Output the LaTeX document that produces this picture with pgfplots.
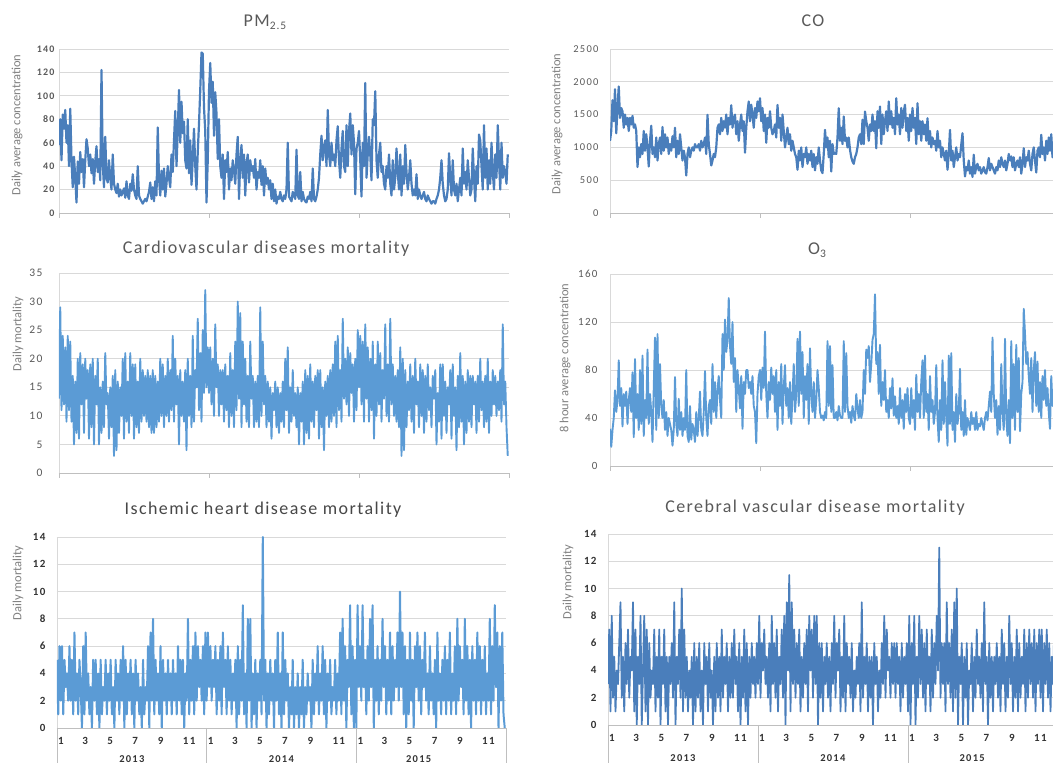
\documentclass[border=0pt]{standalone}
\usepackage{pgfplots}
\pgfplotsset{compat=1.18}
\usepackage{pgfplotstable}
\usepackage{fontspec}
\setmainfont{Carlito}
\newfontfamily\titlefont[LetterSpace=8]{Carlito}
\newfontfamily\tickfont[LetterSpace=12]{Carlito}
\definecolor{dblue}{HTML}{4A7EBB}
\definecolor{lblue}{HTML}{5B9BD5}
\definecolor{gridc}{HTML}{D9D9D9}
\definecolor{axc}{HTML}{BFBFBF}
\definecolor{txt}{HTML}{595959}
\definecolor{lab}{HTML}{7F7F7F}

\pgfplotstableread[row sep=\\]{
y\\
58\\80\\45\\84\\72\\88\\60\\75\\40\\89\\
45\\22\\48\\30\\9\\44\\25\\52\\35\\46\\
22\\45\\63\\55\\40\\50\\34\\46\\25\\44\\
57\\35\\46\\28\\122\\42\\22\\65\\30\\26\\
45\\30\\20\\50\\25\\20\\17\\25\\14\\20\\
15\\18\\21\\13\\27\\15\\12\\25\\19\\33\\
20\\15\\12\\40\\15\\12\\10\\8\\10\\12\\
10\\14\\18\\26\\12\\22\\10\\27\\15\\73\\
30\\15\\36\\20\\38\\14\\25\\40\\30\\22\\
50\\35\\62\\87\\40\\70\\105\\60\\95\\68\\
78\\45\\38\\80\\34\\62\\24\\46\\72\\40\\
20\\52\\76\\105\\137\\136\\90\\70\\9\\45\\
104\\128\\94\\112\\66\\103\\85\\46\\80\\40\\
30\\50\\12\\45\\35\\52\\20\\38\\28\\45\\
36\\25\\50\\65\\12\\45\\58\\30\\50\\15\\
42\\50\\26\\45\\36\\40\\30\\46\\20\\35\\
30\\45\\24\\40\\15\\38\\25\\30\\20\\28\\
12\\25\\10\\20\\8\\14\\12\\18\\12\\10\\
15\\12\\20\\60\\14\\12\\10\\18\\15\\12\\
54\\15\\12\\35\\10\\18\\12\\10\\9\\14\\
12\\18\\10\\38\\12\\10\\14\\20\\30\\50\\
66\\45\\56\\62\\40\\88\\50\\40\\60\\45\\
50\\40\\62\\74\\45\\30\\55\\70\\40\\35\\
75\\40\\70\\85\\50\\75\\60\\16\\55\\60\\
70\\45\\14\\60\\40\\111\\30\\50\\65\\50\\
28\\80\\75\\104\\45\\30\\50\\60\\35\\40\\
25\\20\\40\\30\\50\\25\\15\\45\\20\\30\\
55\\35\\20\\50\\15\\40\\25\\58\\35\\20\\
30\\45\\25\\15\\20\\15\\33\\12\\20\\15\\
12\\15\\18\\12\\10\\15\\12\\10\\8\\10\\
10\\8\\12\\15\\20\\30\\45\\25\\15\\10\\
12\\20\\51\\30\\15\\45\\20\\15\\25\\10\\
20\\30\\15\\55\\25\\35\\20\\45\\30\\15\\
20\\55\\30\\10\\40\\25\\67\\62\\40\\20\\
75\\30\\55\\20\\45\\25\\60\\35\\20\\50\\
30\\75\\45\\20\\60\\30\\40\\35\\25\\50\\
}\pmtab

\pgfplotstableread[row sep=\\]{
y\\
1100\\1250\\1720\\1400\\1886\\1217\\1600\\1927\\1450\\1600\\
1550\\1300\\1500\\1350\\1450\\1250\\1450\\1350\\1480\\1300\\
1350\\1250\\700\\1000\\850\\1050\\900\\1250\\950\\1200\\
1000\\710\\1100\\1330\\900\\1000\\850\\1150\\800\\1050\\
1150\\900\\1310\\950\\1200\\1000\\1150\\900\\1050\\950\\
1170\\1000\\1300\\850\\1100\\900\\1200\\1000\\800\\950\\
850\\573\\900\\1000\\850\\950\\1000\\950\\1050\\1000\\
1000\\1050\\950\\1100\\1000\\1050\\1150\\900\\1496\\1050\\
900\\725\\800\\900\\850\\1000\\1300\\1350\\1200\\1450\\
1250\\1400\\1300\\1500\\1200\\1450\\1350\\1643\\1300\\1450\\
1500\\1200\\1400\\1100\\1350\\1500\\1250\\1400\\920\\1300\\
1550\\1700\\1400\\1650\\1500\\1300\\1600\\1450\\1700\\1550\\
1750\\1400\\1600\\1250\\1500\\1070\\1450\\1300\\1550\\1300\\
1200\\1250\\1350\\1150\\1648\\1300\\1450\\1100\\1500\\1250\\
1000\\1150\\1300\\1050\\1200\\950\\1100\\1000\\900\\850\\
660\\950\\800\\1000\\700\\900\\850\\1000\\750\\900\\
800\\950\\700\\900\\650\\850\\750\\1000\\800\\650\\
608\\900\\1267\\1000\\1150\\850\\1100\\634\\1050\\900\\
913\\900\\1150\\1597\\1100\\1300\\1050\\1470\\1100\\1150\\
1000\\1150\\963\\850\\786\\750\\850\\900\\1000\\1150\\
1200\\1050\\1420\\1050\\1546\\1400\\1300\\1100\\1350\\1250\\
1500\\1250\\1400\\988\\1550\\1300\\1622\\1050\\1500\\1200\\
1400\\1550\\1250\\1700\\1350\\1550\\1300\\1450\\1200\\1750\\
1350\\1500\\1200\\1600\\1300\\1550\\1650\\1250\\1450\\1100\\
1500\\1250\\1600\\1300\\1450\\1050\\1673\\1200\\1400\\1100\\
1400\\1200\\1350\\1100\\1445\\1050\\1250\\1000\\1150\\1050\\
1100\\950\\1250\\1000\\1100\\850\\1000\\900\\800\\950\\
659\\900\\1267\\800\\950\\700\\850\\1000\\800\\900\\
850\\1040\\1217\\800\\558\\700\\650\\800\\600\\700\\
550\\887\\600\\700\\750\\650\\700\\600\\650\\700\\
620\\600\\700\\837\\650\\750\\700\\650\\600\\700\\
650\\800\\700\\850\\750\\700\\800\\650\\750\\900\\
800\\862\\700\\850\\650\\750\\800\\700\\850\\600\\
750\\988\\700\\850\\800\\950\\750\\650\\900\\1000\\
800\\618\\950\\1000\\850\\1191\\900\\1000\\800\\1100\\
900\\1150\\950\\1200\\850\\1000\\900\\950\\800\\1000\\
}\cotab

\pgfplotstableread[row sep=\\]{
y\\
13\\29\\11\\24\\12\\22\\9\\24\\11\\23\\
9\\17\\5\\16\\7\\20\\6\\21\\12\\19\\
7\\20\\13\\18\\6\\19\\8\\20\\5\\17\\
12\\20\\5\\15\\7\\16\\8\\21\\12\\14\\
6\\15\\8\\17\\3\\18\\4\\16\\7\\15\\
10\\20\\6\\21\\9\\16\\7\\21\\10\\19\\
6\\19\\8\\16\\7\\20\\9\\18\\10\\17\\
9\\18\\8\\17\\7\\18\\7\\17\\8\\16\\
9\\20\\10\\19\\8\\17\\10\\20\\9\\18\\
11\\24\\9\\20\\12\\17\\5\\18\\10\\16\\
9\\18\\4\\20\\10\\17\\8\\24\\9\\18\\
15\\27\\11\\21\\9\\25\\14\\32\\15\\22\\
14\\22\\12\\20\\10\\26\\15\\19\\10\\18\\
12\\18\\9\\19\\11\\17\\8\\21\\10\\18\\
8\\23\\11\\30\\13\\28\\8\\23\\12\\20\\
9\\17\\8\\23\\13\\17\\8\\16\\9\\17\\
8\\29\\10\\23\\12\\17\\8\\16\\9\\15\\
6\\14\\11\\16\\8\\15\\7\\14\\9\\16\\
8\\20\\11\\22\\7\\15\\9\\18\\10\\14\\
8\\15\\5\\14\\9\\16\\5\\18\\7\\17\\
6\\19\\9\\16\\8\\17\\11\\18\\6\\18\\
8\\15\\4\\16\\10\\17\\8\\18\\9\\19\\
10\\23\\8\\24\\11\\18\\9\\27\\13\\20\\
12\\22\\10\\21\\14\\19\\9\\20\\11\\25\\
15\\24\\12\\23\\9\\26\\13\\22\\9\\20\\
11\\23\\6\\19\\10\\23\\12\\21\\9\\18\\
13\\26\\10\\19\\9\\27\\12\\19\\10\\17\\
9\\18\\8\\22\\3\\20\\4\\18\\8\\16\\
11\\19\\9\\17\\7\\20\\12\\16\\8\\19\\
10\\18\\7\\17\\9\\19\\11\\15\\8\\17\\
13\\18\\5\\14\\9\\19\\6\\19\\10\\16\\
7\\15\\12\\18\\6\\19\\10\\15\\4\\17\\
8\\21\\9\\17\\5\\16\\7\\18\\9\\17\\
8\\17\\12\\16\\7\\17\\9\\20\\11\\16\\
8\\17\\9\\20\\7\\16\\10\\18\\12\\17\\
10\\16\\11\\18\\9\\26\\12\\16\\8\\3\\
}\cvtab

\pgfplotstableread[row sep=\\]{
y\\
31\\16\\30\\40\\63\\45\\55\\88\\50\\65\\
33\\60\\50\\62\\35\\55\\65\\45\\78\\24\\
89\\40\\60\\30\\80\\35\\92\\25\\55\\40\\
97\\35\\60\\45\\20\\65\\107\\30\\110\\40\\
85\\50\\40\\55\\30\\45\\25\\40\\35\\30\\
17\\30\\74\\35\\25\\56\\30\\45\\25\\40\\
30\\80\\25\\20\\50\\22\\35\\30\\20\\45\\
25\\40\\62\\30\\25\\45\\79\\40\\25\\50\\
55\\35\\85\\45\\70\\40\\63\\75\\55\\40\\
110\\80\\122\\95\\105\\140\\100\\85\\120\\70\\
90\\45\\80\\65\\48\\75\\31\\70\\60\\80\\
80\\65\\70\\60\\75\\50\\45\\19\\60\\75\\
80\\55\\82\\65\\112\\60\\40\\70\\55\\82\\
60\\75\\45\\80\\30\\70\\50\\85\\35\\65\\
84\\50\\65\\40\\70\\35\\58\\85\\45\\60\\
106\\50\\112\\60\\95\\40\\75\\55\\85\\35\\
98\\60\\45\\70\\40\\55\\80\\65\\45\\40\\
42\\38\\45\\40\\104\\50\\100\\45\\84\\40\\
40\\45\\38\\50\\42\\40\\40\\104\\45\\94\\
50\\40\\45\\36\\50\\42\\38\\60\\48\\40\\
55\\40\\45\\80\\60\\97\\90\\100\\70\\85\\
105\\110\\143\\85\\95\\60\\101\\50\\70\\55\\
80\\45\\55\\40\\65\\48\\73\\42\\58\\40\\
50\\35\\65\\40\\55\\31\\60\\45\\65\\40\\
35\\65\\40\\55\\30\\76\\45\\60\\40\\70\\
88\\40\\92\\45\\60\\30\\75\\45\\55\\35\\
45\\84\\40\\20\\55\\30\\88\\35\\70\\40\\
17\\92\\35\\94\\30\\45\\20\\60\\35\\45\\
81\\30\\45\\25\\55\\26\\40\\35\\30\\45\\
35\\40\\30\\45\\30\\35\\33\\40\\35\\30\\
40\\45\\38\\50\\62\\45\\107\\60\\40\\55\\
26\\50\\30\\85\\45\\30\\106\\40\\25\\55\\
19\\104\\40\\85\\30\\101\\45\\90\\29\\60\\
70\\131\\110\\85\\95\\75\\60\\90\\45\\80\\
95\\50\\87\\45\\70\\40\\75\\55\\80\\50\\
65\\45\\31\\75\\50\\60\\40\\70\\55\\30\\
}\otab

\pgfplotstableread[row sep=\\]{
y\\
5\\1\\6\\2\\6\\1\\5\\3\\4\\2\\
6\\2\\5\\1\\7\\2\\4\\1\\5\\3\\
0\\6\\1\\7\\2\\4\\1\\3\\0\\5\\
2\\5\\1\\4\\0\\5\\1\\3\\2\\5\\
1\\4\\2\\5\\1\\3\\0\\5\\2\\4\\
1\\5\\2\\6\\0\\5\\1\\4\\2\\5\\
1\\4\\0\\5\\2\\4\\1\\3\\0\\5\\
1\\3\\2\\6\\0\\7\\2\\8\\1\\5\\
2\\4\\1\\6\\0\\5\\2\\4\\1\\5\\
2\\4\\1\\5\\2\\4\\1\\6\\2\\5\\
1\\5\\0\\4\\2\\8\\1\\5\\2\\6\\
1\\7\\2\\6\\3\\5\\2\\6\\1\\7\\
2\\7\\3\\6\\2\\5\\3\\6\\1\\5\\
2\\6\\1\\7\\3\\5\\1\\6\\2\\5\\
1\\4\\2\\5\\0\\6\\1\\5\\2\\9\\
1\\4\\0\\8\\2\\8\\0\\4\\1\\5\\
0\\4\\2\\5\\1\\14\\2\\5\\0\\4\\
1\\5\\2\\4\\0\\5\\2\\7\\1\\4\\
0\\7\\1\\5\\2\\4\\0\\3\\1\\5\\
0\\3\\1\\4\\0\\3\\1\\5\\0\\3\\
1\\4\\2\\3\\0\\5\\1\\4\\2\\6\\
1\\4\\2\\6\\1\\5\\0\\4\\2\\5\\
1\\3\\2\\5\\1\\4\\2\\7\\1\\8\\
2\\6\\0\\5\\3\\9\\1\\6\\0\\5\\
0\\9\\3\\6\\2\\9\\3\\5\\1\\6\\
2\\8\\3\\9\\0\\5\\2\\6\\1\\5\\
2\\8\\3\\6\\1\\5\\2\\7\\1\\6\\
2\\5\\3\\7\\2\\10\\3\\7\\1\\6\\
0\\5\\1\\7\\2\\5\\0\\6\\3\\7\\
2\\6\\1\\5\\3\\7\\2\\4\\1\\6\\
2\\4\\1\\5\\0\\7\\2\\4\\1\\5\\
2\\6\\1\\5\\2\\7\\1\\4\\2\\6\\
1\\8\\2\\6\\3\\5\\1\\8\\2\\6\\
1\\5\\0\\6\\2\\5\\1\\7\\2\\6\\
1\\5\\2\\6\\1\\4\\2\\8\\1\\6\\
2\\9\\3\\7\\0\\6\\2\\7\\1\\0\\
}\ihtab

\pgfplotstableread[row sep=\\]{
y\\
3\\7\\1\\8\\2\\5\\1\\4\\3\\6\\
9\\2\\5\\1\\6\\3\\7\\2\\5\\4\\
9\\1\\7\\0\\5\\3\\8\\0\\4\\8\\
1\\7\\0\\6\\2\\4\\3\\7\\1\\5\\
2\\7\\0\\5\\3\\7\\1\\5\\0\\5\\
3\\6\\2\\9\\0\\5\\3\\7\\2\\10\\
1\\7\\2\\5\\1\\4\\2\\5\\0\\6\\
1\\5\\2\\6\\1\\4\\0\\6\\3\\5\\
1\\6\\2\\4\\0\\5\\1\\6\\2\\5\\
1\\7\\2\\5\\3\\6\\1\\5\\2\\6\\
2\\7\\3\\5\\1\\6\\0\\5\\2\\7\\
1\\6\\0\\5\\2\\6\\3\\5\\2\\6\\
3\\8\\2\\6\\4\\7\\3\\5\\2\\6\\
1\\8\\3\\6\\2\\7\\1\\5\\3\\7\\
2\\8\\0\\9\\4\\11\\1\\9\\3\\7\\
2\\6\\3\\7\\1\\5\\2\\6\\3\\7\\
1\\8\\4\\7\\2\\8\\3\\8\\0\\6\\
2\\6\\1\\5\\3\\6\\2\\5\\1\\6\\
3\\8\\2\\6\\4\\7\\1\\5\\2\\8\\
1\\6\\3\\5\\2\\6\\1\\4\\2\\5\\
3\\6\\1\\9\\2\\5\\3\\6\\1\\5\\
2\\5\\0\\6\\3\\5\\1\\4\\2\\6\\
3\\8\\2\\7\\4\\5\\2\\6\\3\\6\\
2\\6\\3\\5\\1\\6\\2\\5\\3\\6\\
1\\8\\0\\6\\3\\8\\0\\5\\2\\8\\
3\\7\\2\\6\\1\\7\\3\\5\\1\\7\\
2\\6\\3\\8\\4\\13\\2\\6\\3\\6\\
1\\9\\3\\6\\2\\7\\1\\9\\2\\10\\
0\\5\\3\\6\\0\\5\\2\\6\\0\\4\\
3\\6\\1\\5\\2\\7\\3\\5\\2\\6\\
1\\9\\3\\5\\0\\6\\2\\5\\1\\5\\
3\\6\\2\\5\\1\\7\\3\\6\\1\\5\\
2\\8\\3\\6\\1\\5\\2\\7\\1\\6\\
2\\5\\3\\7\\1\\6\\2\\7\\3\\6\\
2\\7\\1\\6\\3\\7\\2\\7\\1\\6\\
3\\7\\2\\6\\1\\5\\3\\7\\1\\6\\
}\cbtab

\pgfplotsset{
  panel/.style={
    scale only axis, xmin=0, xmax=1095, clip mode=individual,
    axis x line*=bottom, axis y line*=left,
    ymajorgrids, grid style={draw=gridc, line width=0.8pt},
    x axis line style={draw=axc, line width=0.8pt, -},
    y axis line style={draw=gridc, line width=0.8pt, -},
    ytick style={draw=none},
    xtick style={draw=axc, line width=0.8pt},
    tick align=outside, major tick length=5pt,
    /pgf/number format/assume math mode=true,
    /pgf/number format/1000 sep={},
    yticklabel style={text=txt},
  },
  toppanel/.style={panel, xtick={0,365,730,1095}, xticklabels={}},
  botpanel/.style={panel,
    xtick={0,59,120,181,243,304,365,424,485,546,608,669,730,789,850,911,973,1034},
    xticklabels={1,3,5,7,9,11,1,3,5,7,9,11,1,3,5,7,9,11},
    xtick style={draw=none}, major tick length=0pt,
    xticklabel style={anchor=north west, inner sep=0pt, xshift=1pt,
      font=\tickfont\fontsize{11}{11}\selectfont\bfseries, text=black!80},
    yticklabel style={font=\tickfont\fontsize{11}{11}\selectfont\bfseries, text=black!80, xshift=-8pt},
    ymin=0, ymax=14, ytick={0,2,...,14},
  },
}

\begin{document}
\begin{tikzpicture}[x=1pt,y=1pt]
\useasboundingbox (0,0) rectangle (1053,763);
\clip (0,0) rectangle (1053,763);

% ---------- PM2.5 ----------
\begin{axis}[toppanel, at={(59pt,550pt)}, anchor=south west, width=450pt, height=164pt,
  ymin=0, ymax=140, ytick={0,20,...,140},
  yticklabel style={font=\tickfont\fontsize{10}{10}\selectfont\bfseries, xshift=4pt}]
\addplot[dblue, line width=2.2pt, line join=round] table[x expr=\coordindex*3.0417, y index=0] {\pmtab};
\end{axis}
\node[anchor=base, font=\titlefont\fontsize{18}{18}\selectfont, text=txt] at (265,736) {PM{\fontsize{11.5}{11}\selectfont\raisebox{-3pt}{2.5}}};
\node[rotate=90, font=\fontsize{12.5}{13}\selectfont, text=lab] at (17,638) {Daily average concentration};

% ---------- CO ----------
\begin{axis}[toppanel, at={(610pt,550pt)}, anchor=south west, width=450pt, height=164pt,
  ymin=0, ymax=2500, ytick={0,500,...,2500},
  yticklabel style={font=\tickfont\fontsize{10.5}{10}\selectfont, xshift=-3pt}]
\addplot[dblue, line width=2.2pt, line join=round] table[x expr=\coordindex*3.0417, y index=0] {\cotab};
\end{axis}
\node[anchor=base, font=\titlefont\fontsize{18}{18}\selectfont, text=txt] at (813,736) {CO};
\node[rotate=90, font=\fontsize{12.5}{13}\selectfont, text=lab] at (557,639) {Daily average concentration};

% ---------- Cardiovascular ----------
\begin{axis}[toppanel, at={(59pt,290pt)}, anchor=south west, width=450pt, height=200pt,
  ymin=0, ymax=35, ytick={0,5,...,35},
  yticklabel style={font=\tickfont\fontsize{11.5}{11}\selectfont, xshift=-8pt}]
\addplot[lblue, line width=1.9pt, line join=round] table[x expr=\coordindex*3.0417, y index=0] {\cvtab};
\end{axis}
\node[anchor=base, font=\titlefont\fontsize{18}{18}\selectfont, text=txt] at (266,509) {Cardiovascular diseases mortality};
\node[rotate=90, font=\fontsize{12.5}{13}\selectfont, text=lab] at (18,429) {Daily mortality};

% ---------- O3 ----------
\begin{axis}[toppanel, at={(610pt,297pt)}, anchor=south west, width=450pt, height=192pt,
  ymin=0, ymax=160, ytick={0,40,...,160},
  yticklabel style={font=\tickfont\fontsize{11}{11}\selectfont, xshift=-4pt}]
\addplot[lblue, line width=1.9pt, line join=round] table[x expr=\coordindex*3.0417, y index=0] {\otab};
\end{axis}
\node[anchor=base, font=\titlefont\fontsize{18}{18}\selectfont, text=txt] at (817,508) {O{\fontsize{11.5}{11}\selectfont\raisebox{-3pt}{3}}};
\node[rotate=90, font=\fontsize{12.5}{13}\selectfont, text=lab] at (565,405) {8 hour average concentration};

% ---------- Ischemic ----------
\begin{axis}[botpanel, at={(57pt,35pt)}, anchor=south west, width=449pt, height=191pt,
  xticklabel style={yshift=-9.5pt}]
\addplot[lblue, line width=2pt, line join=round] table[x expr=\coordindex*3.0417, y index=0] {\ihtab};
\foreach \d in {0,365,730,1095} {\edef\tmp{\noexpand\draw[axc, line width=0.8pt] (axis cs:\d,0) -- ++(0,-40pt);}\tmp}
\node[anchor=north, inner sep=0pt, font=\tickfont\fontsize{10.5}{10}\selectfont\bfseries, text=black!80] at (axis cs:182.5,0) [yshift=-27pt] {2013};
\node[anchor=north, inner sep=0pt, font=\tickfont\fontsize{10.5}{10}\selectfont\bfseries, text=black!80] at (axis cs:547,0) [yshift=-27pt] {2014};
\node[anchor=north, inner sep=0pt, font=\tickfont\fontsize{10.5}{10}\selectfont\bfseries, text=black!80] at (axis cs:882,0) [yshift=-27pt] {2015};
\end{axis}
\node[anchor=base, font=\titlefont\fontsize{18}{18}\selectfont, text=black!72] at (263,248) {Ischemic heart disease mortality};
\node[rotate=90, font=\fontsize{12.5}{13}\selectfont, text=lab] at (18,180) {Daily mortality};

% ---------- Cerebral ----------
\begin{axis}[botpanel, at={(608pt,38pt)}, anchor=south west, width=450pt, height=191pt,
  xticklabel style={yshift=-9pt}]
\addplot[dblue, line width=1.8pt, line join=round] table[x expr=\coordindex*3.0417, y index=0] {\cbtab};
\foreach \d in {0,365,730,1095} {\edef\tmp{\noexpand\draw[axc, line width=0.8pt] (axis cs:\d,0) -- ++(0,-40pt);}\tmp}
\node[anchor=north, inner sep=0pt, font=\tickfont\fontsize{10.5}{10}\selectfont\bfseries, text=black!80] at (axis cs:182.5,0) [yshift=-29pt] {2013};
\node[anchor=north, inner sep=0pt, font=\tickfont\fontsize{10.5}{10}\selectfont\bfseries, text=black!80] at (axis cs:547,0) [yshift=-29pt] {2014};
\node[anchor=north, inner sep=0pt, font=\tickfont\fontsize{10.5}{10}\selectfont\bfseries, text=black!80] at (axis cs:886,0) [yshift=-29pt] {2015};
\end{axis}
\node[anchor=base, font=\titlefont\fontsize{18}{18}\selectfont, text=txt] at (815,250) {Cerebral vascular disease mortality};
\node[rotate=90, font=\fontsize{12.5}{13}\selectfont, text=lab] at (568,181) {Daily mortality};

\end{tikzpicture}
\end{document}
